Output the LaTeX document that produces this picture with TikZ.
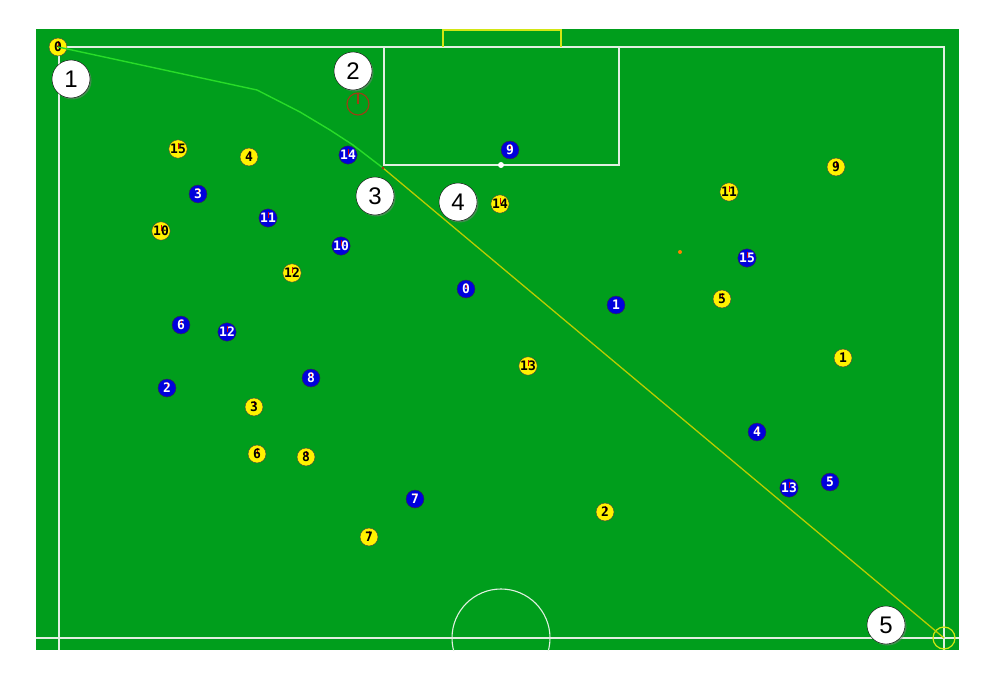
\documentclass[tikz,border=0pt]{standalone}
\usepackage{fontspec}
\setmainfont{Liberation Sans}
\newfontfamily\numfont{DejaVu Sans Mono}
\usetikzlibrary{shadows}

\definecolor{pitch}{RGB}{0,158,28}
\definecolor{chalk}{RGB}{225,240,225}
\definecolor{goalcol}{RGB}{210,230,20}
\definecolor{trailA}{RGB}{40,220,40}
\definecolor{trailB}{RGB}{185,205,0}
\definecolor{teamblue}{RGB}{0,0,220}
\definecolor{marker}{RGB}{160,60,20}

\begin{document}
\begin{tikzpicture}[x=1pt, y=-1pt,
    chalkline/.style={draw=chalk, line width=1.1pt},
    player/.style={circle, minimum size=18pt, inner sep=0pt,
      font=\numfont\bfseries\fontsize{13}{13}\selectfont,
      path picture={\draw[red!85!black, line width=0.9pt]
        (path picture bounding box.center) -- ++(0,-6);}},
    yel/.style={player, draw=black!75, fill=yellow, text=black},
    blu/.style={player, draw=black!80, fill=teamblue, text=white},
    lbl/.style={circle, draw=black, fill=white, minimum size=38pt, inner sep=0pt,
      font=\fontsize{24}{24}\selectfont,
      drop shadow={shadow xshift=1.5pt, shadow yshift=-1.5pt, opacity=0.5}}]
  \useasboundingbox (0,0) rectangle (986,674);
  \fill[pitch] (36,29) rectangle (959,650);

  % pitch markings
  \draw[chalkline] (59,650) -- (59,47) -- (944,47) -- (944,650);
  \draw[chalkline] (36,638) -- (959,638);
  \draw[chalkline] (384,47) rectangle (619,165);
  \draw[goalcol, line width=1.2pt] (443,47) -- (443,30) -- (561,30) -- (561,47);
  \begin{scope}
    \clip (36,29) rectangle (959,650);
    \draw[chalkline] (501,638) circle (49);
  \end{scope}
  \fill[white] (501,165) circle (3);
  \coordinate (corner) at (944,638);
  \draw[goalcol, line width=1.2pt] (corner) circle (11);

  % keeper marker and ball spot
  \draw[marker, line width=1.1pt] (358,104) circle (11);
  \draw[marker, line width=1.1pt] (358,104) -- ++(0,-11);
  \fill[orange] (680,252) circle (2);

  % yellow team
  \foreach \n/\x/\y in {0/58/47, 15/178/149, 4/249/157, 10/161/231, 12/292/273,
      3/254/407, 6/257/454, 8/306/457, 7/369/537, 14/500/204, 13/528/366,
      2/605/512, 11/729/192, 9/836/167, 5/722/299, 1/843/358}
    \node[yel] (y\n) at (\x,\y) {\n};

  % blue team
  \foreach \n/\x/\y in {14/348/155, 3/198/194, 11/268/218, 10/341/246, 6/181/325,
      12/227/332, 2/167/388, 8/311/378, 0/466/289, 9/510/150, 1/616/305,
      15/747/258, 4/757/432, 13/789/488, 5/830/482, 7/415/499}
    \node[blu] (b\n) at (\x,\y) {\n};

  % ball trail
  \coordinate (k1) at (257,90);
  \coordinate (k2) at (300,112);
  \coordinate (k3) at (330,130);
  \coordinate (k4) at (353,145);
  \coordinate (k5) at (383,168);
  \draw[trailA, line width=1.4pt] (y0.center) -- (k1) -- (k2) -- (k3) -- (k4) -- (k5);
  \draw[trailB, line width=1.3pt] (k5) -- (corner);
  \fill[marker] (k5) circle (1.6);

  % step labels
  \node[lbl] (l1) at (71,79)  {1};
  \node[lbl] (l2) at (353,71) {2};
  \node[lbl] (l3) at (375,196) {3};
  \node[lbl] (l4) at (458,202) {4};
  \node[lbl] (l5) at (886,625) {5};
\end{tikzpicture}
\end{document}
